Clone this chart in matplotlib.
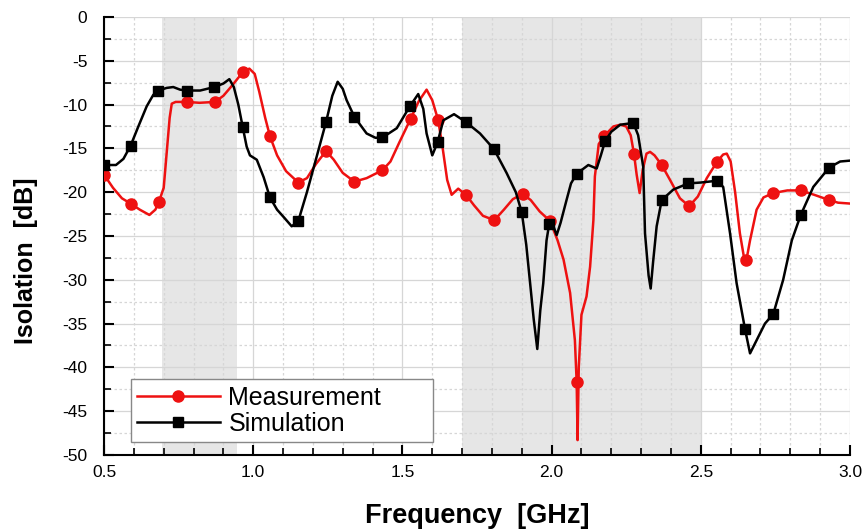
import matplotlib
matplotlib.use("Agg")
import matplotlib.pyplot as plt
from matplotlib.lines import Line2D
from matplotlib.ticker import MultipleLocator, FormatStrFormatter

plt.rcParams['font.family'] = ['Liberation Sans', 'DejaVu Sans']
plt.rcParams['axes.unicode_minus'] = False

# measured curve (GHz, dB)
meas_f = [0.50, 0.53, 0.56, 0.589, 0.62, 0.652, 0.672, 0.684, 0.70, 0.71, 0.72, 0.727,
          0.74, 0.777, 0.82, 0.872, 0.90, 0.93, 0.965, 0.987, 1.005, 1.02, 1.04, 1.056,
          1.08, 1.11, 1.151, 1.18, 1.21, 1.244, 1.27, 1.30, 1.339, 1.38, 1.433, 1.46,
          1.49, 1.528, 1.555, 1.581, 1.60, 1.62, 1.635, 1.65, 1.665, 1.687, 1.713, 1.74,
          1.77, 1.808, 1.84, 1.87, 1.903, 1.93, 1.96, 1.995, 2.02, 2.04, 2.062, 2.078,
          2.084, 2.087, 2.091, 2.10, 2.117, 2.129, 2.14, 2.145, 2.158, 2.176, 2.207, 2.23,
          2.25, 2.265, 2.276, 2.285, 2.295, 2.305, 2.318, 2.33, 2.345, 2.369, 2.40, 2.43,
          2.461, 2.49, 2.52, 2.555, 2.575, 2.587, 2.60, 2.615, 2.631, 2.645, 2.652, 2.665,
          2.687, 2.71, 2.743, 2.79, 2.835, 2.88, 2.93, 2.96, 3.0]
meas_db = [-18.0, -19.5, -20.7, -21.3, -22.0, -22.6, -22.0, -21.1, -19.5, -15.5, -11.5, -9.9,
           -9.7, -9.7, -9.8, -9.7, -9.0, -7.8, -6.3, -5.9, -6.5, -8.5, -11.5, -13.6,
           -15.8, -17.6, -18.9, -18.4, -16.8, -15.3, -16.3, -17.8, -18.8, -18.4, -17.5, -16.5,
           -14.3, -11.6, -9.6, -8.3, -9.5, -11.8, -15.0, -18.6, -20.3, -19.6, -20.3, -21.5,
           -22.7, -23.2, -22.0, -20.8, -20.2, -20.9, -22.2, -23.3, -25.5, -27.7, -31.5, -36.9,
           -41.7, -48.3, -40.0, -34.0, -31.9, -28.5, -23.2, -18.2, -14.5, -13.6, -12.5, -12.3,
           -12.5, -13.5, -15.6, -18.0, -20.1, -17.5, -15.6, -15.4, -15.8, -16.9, -18.8, -20.7,
           -21.6, -20.5, -18.4, -16.5, -15.7, -15.6, -16.5, -20.0, -24.7, -27.5, -27.9, -25.5,
           -22.0, -20.6, -20.1, -19.8, -19.8, -20.3, -20.9, -21.2, -21.3]

# simulated curve (GHz, dB)
sim_f = [0.50, 0.54, 0.565, 0.589, 0.615, 0.643, 0.665, 0.682, 0.71, 0.732, 0.755, 0.777,
         0.822, 0.87, 0.90, 0.92, 0.935, 0.95, 0.965, 0.978, 0.989, 1.012, 1.035, 1.056,
         1.08, 1.101, 1.129, 1.151, 1.18, 1.213, 1.244, 1.265, 1.283, 1.30, 1.313, 1.339,
         1.38, 1.41, 1.436, 1.481, 1.525, 1.553, 1.57, 1.581, 1.60, 1.618, 1.637, 1.673,
         1.713, 1.76, 1.807, 1.849, 1.88, 1.90, 1.915, 1.928, 1.94, 1.952, 1.962, 1.972,
         1.983, 1.992, 2.005, 2.017, 2.03, 2.05, 2.065, 2.084, 2.123, 2.151, 2.165, 2.179,
         2.20, 2.23, 2.274, 2.29, 2.307, 2.313, 2.325, 2.332, 2.34, 2.352, 2.369, 2.408,
         2.458, 2.50, 2.553, 2.575, 2.598, 2.62, 2.648, 2.665, 2.687, 2.715, 2.743, 2.776,
         2.805, 2.835, 2.877, 2.93, 2.967, 3.0]
sim_db = [-16.9, -16.9, -16.2, -14.7, -12.5, -10.2, -8.9, -8.4, -8.1, -8.0, -8.3, -8.4,
          -8.4, -8.0, -7.6, -7.1, -8.0, -10.0, -12.6, -14.8, -15.8, -16.3, -18.3, -20.6,
          -22.0, -22.8, -23.9, -23.3, -20.0, -15.9, -12.0, -9.0, -7.4, -8.2, -9.5, -11.4,
          -13.3, -13.8, -13.7, -12.7, -10.2, -8.8, -10.5, -13.3, -15.8, -14.3, -11.8, -11.1,
          -12.0, -13.3, -15.1, -17.8, -20.0, -22.3, -26.0, -30.4, -34.5, -37.9, -33.5, -30.4,
          -25.5, -23.6, -23.8, -24.9, -23.5, -20.9, -19.0, -17.9, -16.9, -17.3, -15.8, -14.2,
          -13.1, -12.3, -12.1, -13.5, -17.1, -24.7, -29.5, -31.0, -28.0, -23.9, -20.9, -19.7,
          -19.0, -18.9, -18.7, -19.4, -24.7, -30.4, -35.6, -38.4, -36.9, -35.0, -33.9, -30.0,
          -25.5, -22.6, -19.4, -17.2, -16.5, -16.4]

# marker positions
meas_mk_f = [0.5, 0.589, 0.684, 0.777, 0.872, 0.965, 1.056, 1.151, 1.244, 1.339, 1.433, 1.528,
             1.62, 1.713, 1.808, 1.903, 1.995, 2.084, 2.176, 2.276, 2.369, 2.461, 2.555, 2.652,
             2.743, 2.835, 2.93]
meas_mk_db = [-18.0, -21.3, -21.1, -9.7, -9.7, -6.3, -13.6, -18.9, -15.3, -18.8, -17.5, -11.6,
              -11.8, -20.3, -23.2, -20.2, -23.3, -41.7, -13.6, -15.6, -16.9, -21.6, -16.5, -27.7,
              -20.1, -19.8, -20.9]
sim_mk_f = [0.5, 0.589, 0.682, 0.777, 0.87, 0.965, 1.056, 1.151, 1.244, 1.339, 1.433, 1.525,
            1.618, 1.713, 1.807, 1.9, 1.992, 2.084, 2.179, 2.274, 2.369, 2.458, 2.553, 2.648,
            2.743, 2.835, 2.93]
sim_mk_db = [-16.9, -14.7, -8.4, -8.4, -8.0, -12.6, -20.6, -23.3, -12.0, -11.4, -13.7, -10.2,
             -14.3, -12.0, -15.1, -22.3, -23.6, -17.9, -14.2, -12.1, -20.9, -19.0, -18.7, -35.6,
             -33.9, -22.6, -17.2]

bands = [(0.695, 0.945), (1.70, 2.50)]

fig = plt.figure(figsize=(8.64, 5.31), dpi=100)
ax = fig.add_axes([0.1204, 0.1431, 0.8634, 0.825])

for lo, hi in bands:
    ax.axvspan(lo, hi, color='#e6e6e6', zorder=0, lw=0)

red = '#ee1111'
lw = 1.8
ax.plot(meas_f, meas_db, color=red, lw=lw, zorder=3)
ax.plot(meas_mk_f, meas_mk_db, ls='none', marker='o', ms=8, color=red, zorder=3)
ax.plot(sim_f, sim_db, color='black', lw=lw, zorder=4)
ax.plot(sim_mk_f, sim_mk_db, ls='none', marker='s', ms=7, color='black', zorder=4)

ax.set_xlim(0.5, 3.0)
ax.set_ylim(-50, 0)
ax.xaxis.set_major_locator(MultipleLocator(0.5))
ax.xaxis.set_minor_locator(MultipleLocator(0.1))
ax.xaxis.set_major_formatter(FormatStrFormatter('%.1f'))
ax.yaxis.set_major_locator(MultipleLocator(5))
ax.yaxis.set_minor_locator(MultipleLocator(2.5))

ax.set_axisbelow(True)
ax.grid(which='major', color='#d6d6d6', lw=0.9, ls='-')
ax.grid(which='minor', color='#d6d6d6', lw=0.9, ls=(0, (2, 2)))

for s in ['top', 'right']:
    ax.spines[s].set_visible(False)
for s in ['left', 'bottom']:
    ax.spines[s].set_linewidth(1.5)

ax.tick_params(which='major', direction='in', length=7, width=1.5, labelsize=12.5)
ax.tick_params(axis='x', which='major', pad=7)
ax.tick_params(axis='y', which='major', pad=12)
ax.tick_params(which='minor', direction='in', length=5, width=1.2)
ax.tick_params(top=False, right=False, which='both')

ax.set_xlabel('Frequency  [GHz]', fontsize=19.5, fontweight='bold', labelpad=17)
ax.set_ylabel('Isolation  [dB]', fontsize=18, fontweight='bold')
ax.yaxis.set_label_coords(-0.088, 0.443)

handles = [Line2D([], [], color=red, lw=lw, marker='o', ms=8),
           Line2D([], [], color='black', lw=lw, marker='s', ms=7)]
leg = ax.legend(handles, ['Measurement', 'Simulation'], loc='lower left',
                bbox_to_anchor=(0.036, 0.03, 0.405, 0.146), mode='expand',
                borderaxespad=0, fontsize=18,
                handlelength=3.3, labelspacing=0.08, handletextpad=0.35,
                fancybox=False, framealpha=1, edgecolor='#888888',
                borderpad=0.25)
leg.get_frame().set_linewidth(1.0)

fig.savefig('out.png', dpi=100)
